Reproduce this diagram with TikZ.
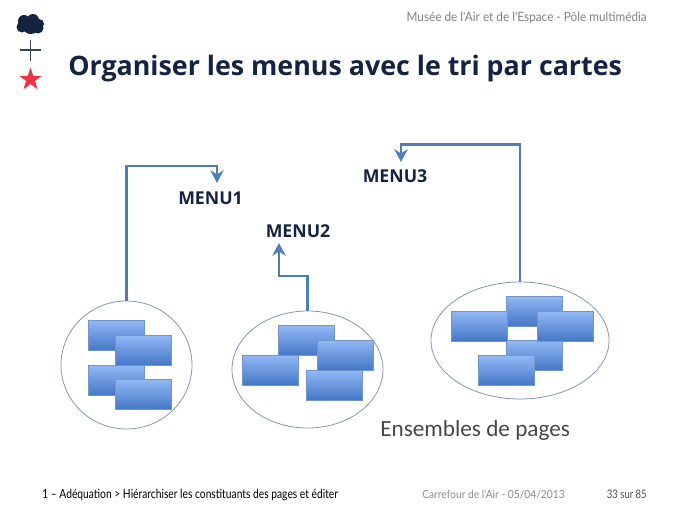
\documentclass[tikz,border=0pt]{standalone}
\usepackage{fontspec}
\usetikzlibrary{calc,arrows.meta,shadows,shapes.geometric}

\setmainfont{Open Sans}
\newfontfamily\notefont{Carlito}
\newfontfamily\headfont[FakeStretch=0.92]{Lato}
\newfontfamily\footfont[FakeStretch=0.81]{Lato}

\definecolor{navy}{HTML}{14233F}
\definecolor{starred}{HTML}{EE3342}
\definecolor{flowblue}{HTML}{4F7DB8}
\definecolor{ringgrey}{HTML}{8496B0}
\definecolor{cardtop}{HTML}{92B8F6}
\definecolor{cardbottom}{HTML}{4577C6}

\tikzset{
  card/.style={rectangle, minimum width=42pt, minimum height=22.5pt, inner sep=0pt,
    draw=flowblue!80, line width=.3pt, top color=cardtop, bottom color=cardbottom,
    drop shadow={shadow xshift=.5pt, shadow yshift=-.7pt, opacity=.2}},
  ring/.style={ellipse, draw=ringgrey, line width=.6pt, inner sep=0pt},
  flow/.style={draw=flowblue, line width=2pt, -{Stealth[length=9.5pt, width=10pt, inset=3pt]}},
  menulabel/.style={anchor=base west, inner sep=0pt, text=navy, font=\fontsize{13.3}{15}\selectfont\bfseries},
  logo/.style={fill=navy},
}

\begin{document}
\begin{tikzpicture}[x=.75pt, y=-.75pt]
  \useasboundingbox (0,0) rectangle (689,517);

  % logo
  \foreach \cx/\cy/\r in {31/25/9, 24/21/6, 33/20/6, 39/24/5, 22/27/5.5, 30/28.5/5.5, 38/28/5.5}
    \fill[logo] (\cx,\cy) circle [radius=\r];
  \coordinate (plusl) at (20,50);
  \coordinate (plusr) at (41,50);
  \coordinate (plust) at (30.5,40);
  \coordinate (plusb) at (30.5,61);
  \draw[navy!85, line width=.8pt] (plusl) -- (plusr) (plust) -- (plusb);
  \node[star, star points=5, star point ratio=2.6, fill=starred, inner sep=0pt,
        minimum size=18pt] (logostar) at (30.5,79.5) {};

  % header
  \node[anchor=base east, inner sep=0pt, text=black!50, font=\fontsize{9.6}{11}\headfont]
    (musee) at (647,22) {Musée de l'Air et de l'Espace - Pôle multimédia};
  \node[anchor=base west, inner sep=0pt, text=navy, font=\fontsize{20.1}{24}\selectfont\bfseries]
    (title) at (68,75) {Organiser les menus avec le tri par cartes};

  % first set
  \node[ring, minimum width=98.25pt, minimum height=96pt] (set1) at (126.5,365) {};
  \node[card] (a1) at (116,335.5) {};
  \node[card] (a3) at ($(a1) + (0,44.5)$) {};
  \node[card] (a2) at ($(a1) + (27.5,14.5)$) {};
  \node[card] (a4) at ($(a3) + (27.5,14.5)$) {};

  % second set
  \node[ring, minimum width=113.25pt, minimum height=87.75pt] (set2) at (307.5,369.5) {};
  \node[card] (b1) at (306.5,340.5) {};
  \node[card] (b2) at ($(b1) + (-36.5,29.5)$) {};
  \node[card] (b4) at ($(b1) + (28,44.5)$) {};
  \node[card] (b3) at ($(b1) + (39,14.5)$) {};

  % third set
  \node[ring, minimum width=133.5pt, minimum height=87.75pt] (set3) at (520,340.5) {};
  \node[card] (c4) at (534,355.5) {};
  \node[card] (c5) at ($(c4) + (-27.5,15)$) {};
  \node[card] (c2) at ($(c4) + (0,-44.5)$) {};
  \node[card] (c1) at ($(c2) + (-55,15)$) {};
  \node[card] (c3) at ($(c2) + (31.5,15)$) {};

  % menus
  \node[menulabel] (menu1) at (178,204) {MENU1};
  \node[menulabel] (menu2) at (265.5,237) {MENU2};
  \node[menulabel] (menu3) at (362.5,182) {MENU3};

  \coordinate (turn1) at (217,166);
  \coordinate (tip1) at (217,183);
  \coordinate (turn2) at (279,276);
  \coordinate (tip2) at (279,243);
  \coordinate (turn3) at (401,144.5);
  \coordinate (tip3) at (401,162);
  \draw[flow] (set1.north) |- (turn1) -- (tip1);
  \draw[flow] (set2.north) |- (turn2) -- (tip2);
  \draw[flow] (set3.north) |- (turn3) -- (tip3);

  \node[anchor=base west, inner sep=0pt, text=black!72, font=\fontsize{17.4}{20}\notefont]
    (ensembles) at (380,436) {Ensembles de pages};

  % footer
  \node[anchor=base west, inner sep=0pt, text=black, font=\fontsize{9.5}{10}\footfont]
    (chapter) at (42,498) {1 – Adéquation > Hiérarchiser les constituants des pages et éditer};
  \node[anchor=base west, inner sep=0pt, text=black!45, font=\fontsize{8.35}{10}\headfont]
    (event) at (422,498) {Carrefour de l'Air - 05/04/2013};
  \node[anchor=base east, inner sep=0pt, text=black!70, font=\fontsize{8.8}{10}\footfont]
    (pageno) at (647,498) {33 sur 85};
\end{tikzpicture}
\end{document}
